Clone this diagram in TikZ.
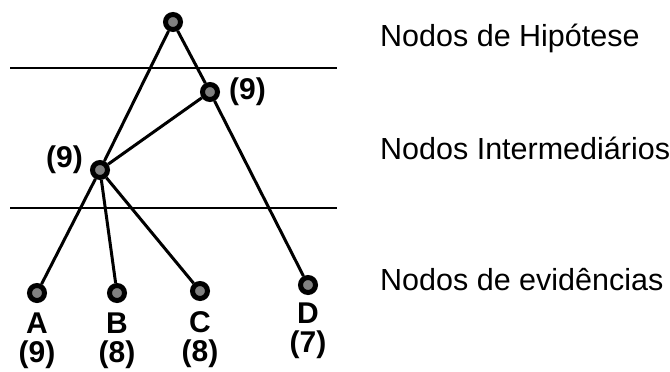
\documentclass[tikz,border=0pt]{standalone}
\usepackage{fontspec}
\setmainfont{Liberation Sans}
\usepackage{xcolor}
\usetikzlibrary{positioning, calc}
\definecolor{nodegray}{HTML}{808080}
\tikzstyle{treenode} = [circle, draw=black, fill=nodegray, line width=5pt, inner sep=0pt, minimum size=15pt]
\tikzstyle{edge} = [line width=3pt, black]
\tikzstyle{layerline} = [line width=2.8pt, black]
\tikzstyle{weight} = [font=\fontsize{30}{32}\selectfont\bfseries, inner sep=1pt]
\tikzstyle{layertext} = [font=\fontsize{30.5}{34}\selectfont, anchor=west, inner sep=0pt]

\begin{document}
\begin{tikzpicture}[x=1pt, y=-1pt]
  \useasboundingbox (0,0) rectangle (670,372);

  % === LAYER LINES ===
  \coordinate (l1a) at (10,68);
  \coordinate (l1b) at (337,68);
  \coordinate (l2a) at (10,208);
  \coordinate (l2b) at (337,208);
  \draw[layerline] (l1a) -- (l1b);
  \draw[layerline] (l2a) -- (l2b);

  % === TREE NODES ===
  \node (h)  [treenode] at (173,22) {};
  \node (i1) [treenode] at (210,92) {};
  \node (i2) [treenode] at (100,170) {};
  \node (a)  [treenode] at (37,293) {};
  \node (b)  [treenode] at (117,293) {};
  \node (c)  [treenode] at (200,291) {};
  \node (d)  [treenode] at (308,285) {};

  % === EDGES ===
  \draw[edge] (h) -- (i2);
  \draw[edge] (i2) -- (a);
  \draw[edge] (h) -- (i1);
  \draw[edge] (i1) -- (d);
  \draw[edge] (i1) -- (i2);
  \draw[edge] (i2) -- (b);
  \draw[edge] (i2) -- (c);

  % === WEIGHTS ===
  \node (wi1) [weight, right=8pt of i1] {(9)};
  \node (wi2) [weight, left=6pt of i2, yshift=10pt] {(9)};
  \node (na) [weight, below=9pt of a] {A};
  \node (nb) [weight, below=9pt of b] {B};
  \node (nc) [weight, below=9pt of c] {C};
  \node (nd) [weight, below=7pt of d] {D};
  \node (wa) [weight, below=5pt of na] {(9)};
  \node (wb) [weight, below=5pt of nb] {(8)};
  \node (wc) [weight, below=5pt of nc] {(8)};
  \node (wd) [weight, below=5pt of nd] {(7)};

  % === LAYER NAMES ===
  \node (th) [layertext] at (380,38) {Nodos de Hipótese};
  \node (ti) [layertext] at (380,148) {Nodos Intermediários};
  \node (te) [layertext] at (380,280) {Nodos de evidências};

\end{tikzpicture}
\end{document}
